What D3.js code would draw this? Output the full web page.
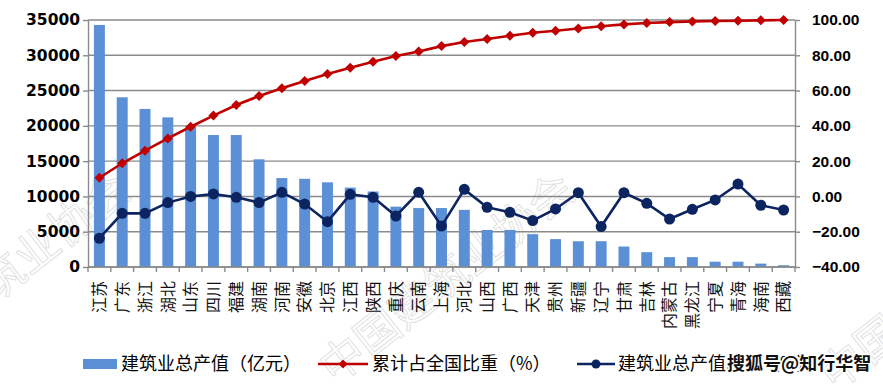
<!DOCTYPE html>
<html>
<head>
<meta charset="utf-8">
<script src="https://cdn.jsdelivr.net/npm/d3@7"></script>
<style>
  body { margin: 0; background: #fff; }
  svg { display: block; }
</style>
</head>
<body>
<div class="graphContainer"></div>
<script>
var provinces = ["江苏","广东","浙江","湖北","山东","四川","福建","湖南","河南","安徽","北京",
  "江西","陕西","重庆","云南","上海","河北","山西","广西","天津","贵州","新疆","辽宁",
  "甘肃","吉林","内蒙古","黑龙江","宁夏","青海","海南","西藏"];

// 建筑业总产值（亿元）
var output = [34300, 24050, 22400, 21200, 19900, 18700, 18700, 15260, 12600, 12500, 12000,
  11250, 10700, 8550, 8350, 8350, 8100, 5250, 5250, 4650, 3950, 3650, 3650,
  2900, 2100, 1400, 1400, 750, 750, 480, 250];

// 累计占全国比重（%）
var cumShare = [10.6, 18.8, 25.9, 32.9, 39.5, 45.8, 51.8, 56.9, 61.3, 65.4, 69.4,
  73.0, 76.4, 79.6, 82.1, 85.2, 87.5, 89.2, 91.1, 92.8, 93.9, 95.2, 96.5,
  97.5, 98.3, 98.8, 99.2, 99.4, 99.6, 99.8, 100];

// 建筑业总产值增速（%）
var growth = [-23.7, -9.6, -9.6, -3.5, 0.0, 1.4, -0.5, -3.5, 2.3, -4.3, -14.3,
  1.2, -0.5, -11.1, 2.3, -16.8, 4.0, -6.2, -9.0, -13.7, -7.1, 2.1, -17.1,
  2.1, -3.9, -12.8, -7.3, -2.0, 7.0, -5.0, -7.7];

var leftTicks = [0, 5000, 10000, 15000, 20000, 25000, 30000, 35000];
var rightTicks = [-40, -20, 0, 20, 40, 60, 80, 100];

var legendLabels = ["建筑业总产值（亿元）", "累计占全国比重（%）", "建筑业总产值增速（%）"];

var w = 883, h = 389;
var plotL = 88, plotR = 795, plotT = 20, plotB = 267;

var barColor = "#5b8fd6", redColor = "#c00000", navyColor = "#0c2560", gridColor = "#8a8a8a";

var svg = d3.select(".graphContainer")
  .append("svg")
  .attr("width", w)
  .attr("height", h);

// faint watermark
var wm = svg.append("g").attr("fill", "none").attr("stroke", "#e2e2e2").attr("stroke-width", 1)
  .attr("font-family", "Noto Sans CJK SC").attr("font-size", 44);
wm.append("text").attr("transform", "translate(-40,330) rotate(-38)").text("建筑业协会");
wm.append("text").attr("transform", "translate(335,385) rotate(-38)").text("中国建筑业协会");
wm.append("text").attr("transform", "translate(835,392) rotate(-38)").text("中国");

var x = d3.scaleBand()
  .domain(provinces)
  .range([plotL, plotR])
  .paddingInner(0.52)
  .paddingOuter(0.26);

var yL = d3.scaleLinear().domain([0, 35000]).range([plotB, plotT]);
var yR = d3.scaleLinear().domain([-40, 100]).range([plotB, plotT]);

// gridlines
svg.append("g")
  .selectAll("line")
  .data(leftTicks)
  .enter()
  .append("line")
  .attr("x1", plotL).attr("x2", plotR)
  .attr("y1", function (d) { return yL(d); })
  .attr("y2", function (d) { return yL(d); })
  .attr("stroke", gridColor)
  .attr("stroke-width", 1.4);

// bars
svg.append("g")
  .selectAll("rect")
  .data(output)
  .enter()
  .append("rect")
  .attr("fill", barColor)
  .attr("x", function (d, i) { return x(provinces[i]); })
  .attr("width", x.bandwidth())
  .attr("y", function (d) { return yL(d); })
  .attr("height", function (d) { return yL(0) - yL(d); });

// left axis
var axisL = d3.axisLeft(yL).tickValues(leftTicks).tickSize(5).tickPadding(3)
  .tickSizeOuter(0).tickFormat(d3.format("d"));
var gL = svg.append("g").attr("transform", "translate(" + plotL + ",0)").call(axisL);
gL.select(".domain").attr("stroke", gridColor).attr("stroke-width", 1.4);
gL.selectAll(".tick line").attr("stroke", gridColor).attr("stroke-width", 1.4);
gL.selectAll("text").attr("font-family", "DejaVu Sans").attr("font-weight", "bold")
  .attr("font-size", 15.5).attr("fill", "#000");

// right axis
var axisR = d3.axisRight(yR).tickValues(rightTicks).tickSize(5).tickPadding(12)
  .tickSizeOuter(0).tickFormat(d3.format(".2f"));
var gR = svg.append("g").attr("transform", "translate(" + plotR + ",0)").call(axisR);
gR.select(".domain").attr("stroke", gridColor).attr("stroke-width", 1.4);
gR.selectAll(".tick line").attr("stroke", gridColor).attr("stroke-width", 1.4);
gR.selectAll("text").attr("font-family", "Liberation Sans").attr("font-weight", "bold")
  .attr("font-size", 15.5).attr("fill", "#000");

// bottom axis with ticks between categories
svg.append("line")
  .attr("x1", plotL).attr("x2", plotR)
  .attr("y1", plotB).attr("y2", plotB)
  .attr("stroke", gridColor).attr("stroke-width", 1.4);
svg.append("g")
  .selectAll("line")
  .data(d3.range(provinces.length + 1))
  .enter()
  .append("line")
  .attr("x1", function (i) { return plotL + i * x.step(); })
  .attr("x2", function (i) { return plotL + i * x.step(); })
  .attr("y1", plotB).attr("y2", plotB + 5)
  .attr("stroke", gridColor).attr("stroke-width", 1.4);

// category labels, rotated
svg.append("g")
  .selectAll("text")
  .data(provinces)
  .enter()
  .append("text")
  .attr("transform", function (d) {
    return "translate(" + (x(d) + x.bandwidth() / 2) + ",281) rotate(-90)";
  })
  .attr("text-anchor", "end")
  .attr("dy", "0.36em")
  .attr("font-family", "Noto Sans CJK SC")
  .attr("font-size", 16)
  .attr("fill", "#111")
  .text(function (d) { return d; });

var cx = function (d, i) { return x(provinces[i]) + x.bandwidth() / 2; };

// cumulative share line
var lineR = d3.line().x(cx).y(function (d) { return yR(d); });
svg.append("path")
  .datum(cumShare)
  .attr("fill", "none")
  .attr("stroke", redColor)
  .attr("stroke-width", 2.6)
  .attr("d", lineR);
svg.append("g")
  .selectAll("path")
  .data(cumShare)
  .enter()
  .append("path")
  .attr("d", d3.symbol().type(d3.symbolSquare).size(50))
  .attr("transform", function (d, i) {
    return "translate(" + cx(d, i) + "," + yR(d) + ") rotate(45)";
  })
  .attr("fill", redColor);

// growth line
svg.append("path")
  .datum(growth)
  .attr("fill", "none")
  .attr("stroke", navyColor)
  .attr("stroke-width", 2.6)
  .attr("d", lineR);
svg.append("g")
  .selectAll("circle")
  .data(growth)
  .enter()
  .append("circle")
  .attr("cx", cx)
  .attr("cy", function (d) { return yR(d); })
  .attr("r", 5.5)
  .attr("fill", navyColor);

// legend
var legend = svg.append("g")
  .attr("font-family", "Noto Sans CJK SC")
  .attr("font-size", 18)
  .attr("fill", "#000");

legend.append("rect").attr("x", 83).attr("y", 359).attr("width", 34).attr("height", 10).attr("fill", barColor);
legend.append("text").attr("x", 121).attr("y", 364).attr("dy", "0.36em").text(legendLabels[0]);

legend.append("line").attr("x1", 318).attr("x2", 368).attr("y1", 364).attr("y2", 364)
  .attr("stroke", redColor).attr("stroke-width", 2.6);
legend.append("path").attr("d", d3.symbol().type(d3.symbolSquare).size(40)())
  .attr("transform", "translate(343,364) rotate(45)").attr("fill", redColor);
legend.append("text").attr("x", 372).attr("y", 364).attr("dy", "0.36em").text(legendLabels[1]);

legend.append("line").attr("x1", 577).attr("x2", 615).attr("y1", 364).attr("y2", 364)
  .attr("stroke", navyColor).attr("stroke-width", 2.6);
legend.append("circle").attr("cx", 596).attr("cy", 364).attr("r", 4.5).attr("fill", navyColor);
legend.append("text").attr("x", 618).attr("y", 364).attr("dy", "0.36em").text(legendLabels[2]);

// site watermark
svg.append("text")
  .attr("x", 727).attr("y", 364).attr("dy", "0.36em")
  .attr("font-family", "Noto Sans CJK SC").attr("font-size", 18).attr("font-weight", "bold")
  .attr("fill", "#111")
  .attr("stroke", "#fff").attr("stroke-width", 3).attr("paint-order", "stroke")
  .text("搜狐号@知行华智");
</script>
</body>
</html>
